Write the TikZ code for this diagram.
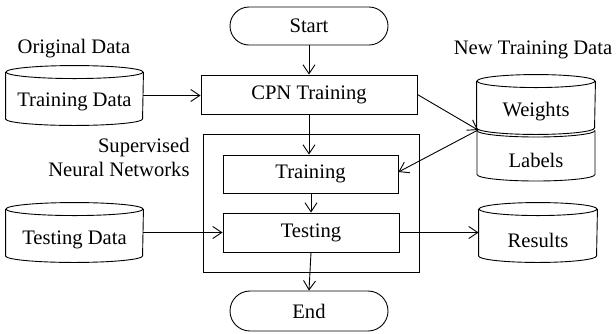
\documentclass[tikz,border=0pt]{standalone}
\usepackage{fontspec}
\setmainfont{Liberation Serif}
\usetikzlibrary{arrows.meta}
\tikzset{
  txt/.style={font=\fontsize{20.6}{24}\selectfont, inner sep=0pt},
  box/.style={draw, rectangle, txt},
  term/.style={draw, rounded corners=19pt, minimum width=158pt, minimum height=38pt, txt},
  arr/.style={-{Straight Barb[length=9pt,width=12pt]}},
  cylbody/.style={inner sep=0pt, draw=none}
}
% name, cx, cy, width, height
\newcommand\mycyl[5]{%
  \node[cylbody, minimum width=#4pt, minimum height=#5pt] (#1) at (#2,#3) {};
  \draw ([yshift=-6.5pt]#1.north west) -- ([yshift=6.5pt]#1.south west)
     arc[start angle=180, end angle=360, x radius={0.5*#4pt}, y radius=6.5pt]
     -- ([yshift=-6.5pt]#1.north east);
  \draw ([yshift=-6.5pt]#1.north) ellipse[x radius={0.5*#4pt}, y radius=6.5pt];
}
\begin{document}
\begin{tikzpicture}[x=1pt, y=-1pt, line width=0.9pt]
\useasboundingbox (0,0) rectangle (616,333);

% flow
\node[term] (start) at (309,26) {Start};
\node[box, minimum width=216pt, minimum height=39pt] (cpn) at (309,94.5) {CPN Training};
\node[draw, minimum width=216pt, minimum height=138pt, inner sep=0pt] (snn) at (311,203) {};
\node[box, minimum width=175pt, minimum height=38pt] (train) at (310.5,174) {Training};
\node[box, minimum width=176pt, minimum height=39pt] (test) at (311,232.5) {Testing};
\node[term, minimum height=40pt, rounded corners=20pt] (end) at (309,311) {End};

\node[txt, align=right, anchor=east] (snnlbl) at (190,157) {Supervised\\Neural Networks};

% cylinders
\node[txt] (origlbl) at (74,49) {Original Data};
\mycyl{td}{74.5}{95.5}{137}{59}
\node[txt] (tdtxt) at (74.5,102) {Training Data};

\mycyl{ted}{74.5}{232.5}{137}{59}
\node[txt] (tedtxt) at (74.5,240) {Testing Data};

\mycyl{res}{538}{232.5}{118}{59}
\node[txt] (restxt) at (538,240) {Results};

\node[txt] (newlbl) at (533,50) {New Training Data};
\mycyl{wt}{536}{104.5}{118}{59}
\node[txt] (wttxt) at (536,112) {Weights};
\node[cylbody, minimum width=118pt, minimum height=57pt] (lb) at (536,152.5) {};
\draw (477,130.5) arc[start angle=180, end angle=360, x radius=59pt, y radius=6.5pt];
\draw (477,130.5) -- (477,174.5) arc[start angle=180, end angle=360, x radius=59pt, y radius=6.5pt] -- (595,130.5);
\node[txt] (lbtxt) at (536,160) {Labels};
\coordinate (wl) at (478,130);

% connectors
\draw[arr] (start) -- (cpn);
\draw[arr] (cpn.south) -- (cpn.south |- train.north);
\draw[arr] (train.south -| test.north) -- (test.north);
\draw[arr] (test.south) -- (end.north);
\draw[arr] (td.east) -- (td.east -| cpn.west);
\draw[arr] (ted.east) -- (test.west);
\draw[arr] (test.east) -- (res.west);
\draw[arr] (cpn.east) -- (wl);
\draw[arr] (wl) -- ([yshift=2pt]train.east);
\end{tikzpicture}
\end{document}
